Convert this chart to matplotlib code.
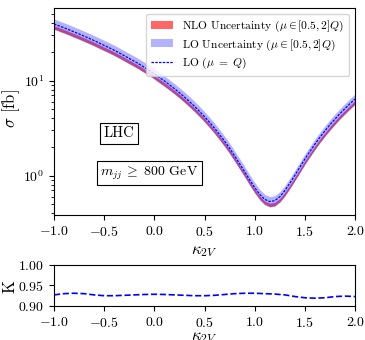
import matplotlib
matplotlib.use('Agg')
import numpy as np
import matplotlib.pyplot as plt

plt.rcParams['font.family'] = 'serif'
plt.rcParams['font.serif'] = ['cmr10']
plt.rcParams['mathtext.fontset'] = 'cm'
plt.rcParams['axes.formatter.use_mathtext'] = True
plt.rcParams['font.size'] = 10

# kappa_2V scan, LO cross section at mu = Q (fb)
k2v = [-1.00, -0.95, -0.90, -0.85, -0.80, -0.75, -0.70, -0.65, -0.60, -0.55,
       -0.50, -0.45, -0.40, -0.35, -0.30, -0.25, -0.20, -0.15, -0.10, -0.05,
       0.00, 0.05, 0.10, 0.15, 0.20, 0.25, 0.30, 0.35, 0.40, 0.45,
       0.50, 0.55, 0.60, 0.65, 0.70, 0.75, 0.80, 0.85, 0.90, 0.95,
       1.00, 1.05, 1.10, 1.15, 1.20, 1.25, 1.30, 1.35, 1.40, 1.45,
       1.50, 1.55, 1.60, 1.65, 1.70, 1.75, 1.80, 1.85, 1.90, 1.95, 2.00]
sigma_lo = [39.5, 37.7, 36.0, 34.3, 32.6, 31.0, 29.4, 27.9, 26.4, 24.9,
            23.5, 22.2, 20.9, 19.6, 18.3, 17.1, 16.0, 14.9, 13.8, 12.8,
            11.8, 10.8, 9.91, 9.05, 8.23, 7.45, 6.71, 6.01, 5.36, 4.74,
            4.17, 3.64, 3.15, 2.70, 2.30, 1.94, 1.61, 1.33, 1.10, 0.90,
            0.746, 0.633, 0.562, 0.533, 0.545, 0.600, 0.696, 0.833, 1.01, 1.23,
            1.50, 1.80, 2.15, 2.54, 2.97, 3.44, 3.95, 4.51, 5.10, 5.74, 6.42]

# scale variation edges relative to LO(mu=Q)
lo_up, lo_dn = 1.13, 0.875
nlo_up, nlo_dn = 0.96, 0.885

# K factor
k2v_k = [-1.0, -0.9, -0.8, -0.7, -0.6, -0.5, -0.4, -0.3, -0.2, -0.1,
         0.0, 0.1, 0.2, 0.3, 0.4, 0.5, 0.6, 0.7, 0.8, 0.9,
         1.0, 1.1, 1.2, 1.3, 1.4, 1.5, 1.6, 1.7, 1.8, 1.9, 2.0]
kfac = [0.927, 0.930, 0.931, 0.930, 0.927, 0.925, 0.925, 0.926, 0.927, 0.928,
        0.9285, 0.928, 0.927, 0.926, 0.925, 0.925, 0.926, 0.928, 0.930, 0.931,
        0.931, 0.930, 0.929, 0.927, 0.923, 0.920, 0.919, 0.920, 0.923, 0.924, 0.923]

x = np.array(k2v)
lo = np.array(sigma_lo)

fig = plt.figure(figsize=(3.65, 3.4), dpi=100)
ax = fig.add_axes([0.148, 0.368, 0.825, 0.608])
ax2 = fig.add_axes([0.148, 0.100, 0.825, 0.121])

ax.fill_between(x, lo * nlo_dn, lo * nlo_up, color='red', alpha=0.6, lw=0,
                label=r'NLO Uncertainty ($\mu \in [0.5, 2]Q$)')
ax.fill_between(x, lo * lo_dn, lo * lo_up, color='blue', alpha=0.3, lw=0,
                label=r'LO Uncertainty ($\mu \in [0.5, 2]Q$)')
ax.plot(x, lo, color='blue', lw=0.9, dashes=(2, 1), label=r'LO ($\mu\;=\;Q$)')

ax.set_yscale('log')
ax.set_xlim(-1, 2)
ax.set_ylim(0.386, 58)
ax.set_xlabel(r'$\kappa_{2V}$', fontsize=12)
ax.set_ylabel(r'$\sigma$ [fb]', fontsize=12)
ax.yaxis.set_label_coords(-0.106, 0.514)
ax.legend(loc='upper right', fontsize=8.3, handlelength=1.9, labelspacing=0.25,
          borderpad=0.45)

box = dict(boxstyle='square,pad=0.25', facecolor='white', edgecolor='black', lw=0.8)
ax.text(0.217, 0.393, 'LHC', transform=ax.transAxes, ha='center', va='center',
        fontsize=10.5, bbox=box)
ax.text(0.316, 0.203, r'$m_{jj}\;\geq\;800$ GeV', transform=ax.transAxes,
        ha='center', va='center', fontsize=10, bbox=box)

ax2.plot(k2v_k, kfac, color='blue', ls='--', lw=1.2)
ax2.set_xlim(-1, 2)
ax2.set_ylim(0.90, 1.00)
ax2.set_yticks([0.90, 0.95, 1.00])
ax2.set_xlabel(r'$\kappa_{2V}$', fontsize=12, labelpad=0)
ax2.set_ylabel('K', fontsize=12)
ax2.yaxis.set_label_coords(-0.12, 0.47)

fig.savefig('out.png', dpi=100)
